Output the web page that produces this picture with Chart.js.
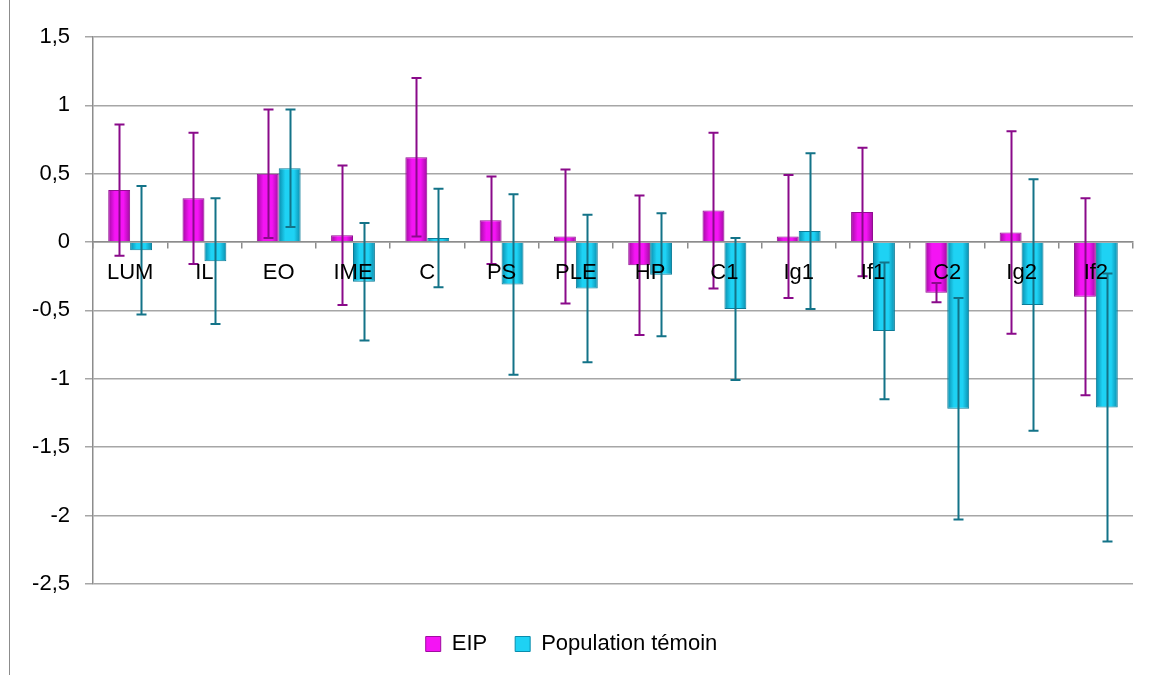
<!DOCTYPE html>
<html>
<head>
<meta charset="utf-8">
<script src="https://cdn.jsdelivr.net/npm/chart.js@4/dist/chart.umd.min.js"></script>
<style>
  body { margin: 0; background: #fff; }
  #wrap { position: relative; width: 1158px; height: 675px; }
  #frame { position: absolute; left: 9px; top: 0; width: 1px; height: 675px; background: #8c8c8c; }
</style>
</head>
<body>
<div id="wrap">
  <div id="frame"></div>
  <canvas id="chart" width="1158" height="675"></canvas>
</div>
<script>
const categories = ['LUM', 'IL', 'EO', 'IME', 'C', 'PS', 'PLE', 'HP', 'C1', 'Ig1', 'If1', 'C2', 'Ig2', 'If2'];
const eip = [0.38, 0.32, 0.50, 0.05, 0.62, 0.16, 0.04, -0.17, 0.23, 0.04, 0.22, -0.37, 0.07, -0.40];
const eipErr = [0.48, 0.48, 0.47, 0.51, 0.58, 0.32, 0.49, 0.51, 0.57, 0.45, 0.47, 0.07, 0.74, 0.72];
const pop = [-0.06, -0.14, 0.54, -0.29, 0.03, -0.31, -0.34, -0.24, -0.49, 0.08, -0.65, -1.22, -0.46, -1.21];
const popErr = [0.47, 0.46, 0.43, 0.43, 0.36, 0.66, 0.54, 0.45, 0.52, 0.57, 0.50, 0.81, 0.92, 0.98];

const errors = [eipErr, popErr];
const errColors = ['#8a0a8a', '#137388'];
const catPct = 0.59;

// [edge, middle] colours per series
const shades = [['#a00ca0', '#f414f4'], ['#0a8cac', '#1ed2f4']];

// horizontal shading inside each bar, positioned from the x scale
function barFill(ctx) {
  const di = ctx.datasetIndex;
  const xs = ctx.chart.scales && ctx.chart.scales.x;
  if (ctx.type !== 'data' || !xs) return shades[di][1];
  const c = xs.getPixelForValue(ctx.dataIndex);
  const w = xs.width / categories.length * catPct / 2;
  if (!isFinite(c) || !isFinite(w) || w <= 0) return shades[di][1];
  const x0 = di === 0 ? c - w : c;
  const g = ctx.chart.ctx.createLinearGradient(x0, 0, x0 + w, 0);
  g.addColorStop(0, shades[di][0]);
  g.addColorStop(0.3, shades[di][1]);
  g.addColorStop(0.7, shades[di][1]);
  g.addColorStop(1, shades[di][0]);
  return g;
}

// error bars drawn from the y scale
const errorBars = {
  id: 'errorBars',
  afterDatasetsDraw(chart) {
    const ctx = chart.ctx;
    const y = chart.scales.y;
    chart.data.datasets.forEach((ds, di) => {
      const meta = chart.getDatasetMeta(di);
      ctx.save();
      ctx.strokeStyle = errColors[di];
      ctx.lineWidth = 2;
      meta.data.forEach((bar, i) => {
        const v = ds.data[i];
        const e = errors[di][i];
        const top = y.getPixelForValue(v + e);
        const bot = y.getPixelForValue(v - e);
        const x = Math.round(bar.x) + 0.5;
        ctx.beginPath();
        ctx.moveTo(x, top);
        ctx.lineTo(x, bot);
        ctx.moveTo(x - 5, top);
        ctx.lineTo(x + 5, top);
        ctx.moveTo(x - 5, bot);
        ctx.lineTo(x + 5, bot);
        ctx.stroke();
      });
      ctx.restore();
    });
  }
};

const font = { family: "'Liberation Sans', Arial, sans-serif", size: 22 };

const chart = new Chart(document.querySelector('#chart'), {
  type: 'bar',
  data: {
    labels: categories,
    datasets: [{
      label: 'EIP',
      data: eip,
      backgroundColor: barFill,
      borderColor: '#930d93',
      borderWidth: 1,
      categoryPercentage: catPct,
      barPercentage: 1.0
    }, {
      label: 'Population témoin',
      data: pop,
      backgroundColor: barFill,
      borderColor: '#0b7c98',
      borderWidth: 1,
      categoryPercentage: catPct,
      barPercentage: 1.0
    }]
  },
  options: {
    responsive: false,
    animation: false,
    layout: { padding: { left: 10, top: 37, right: 25, bottom: 10 } },
    plugins: {
      tooltip: { enabled: false },
      legend: {
        position: 'bottom',
        title: { display: true, text: ' ', font: { size: 1 }, padding: { top: 0, bottom: 20 } },
        labels: {
          font: font,
          color: '#000',
          boxWidth: 15,
          boxHeight: 15,
          padding: 28,
          generateLabels(c) {
            const items = Chart.defaults.plugins.legend.labels.generateLabels(c);
            items.forEach((it, i) => {
              it.fillStyle = shades[i][1];
              it.strokeStyle = shades[i][0];
              it.lineWidth = 1;
            });
            return items;
          }
        }
      }
    },
    scales: {
      x: {
        position: { y: 0 },
        grid: {
          offset: true,
          drawOnChartArea: false,
          tickLength: 6,
          color: '#8c8c8c',
          lineWidth: 1.5
        },
        border: { color: '#8c8c8c', width: 1.5 },
        ticks: { z: 1, font: font, color: '#000', padding: 12, maxRotation: 0, autoSkip: false }
      },
      y: {
        min: -2.5,
        max: 1.5,
        afterFit(scale) { scale.width = 83; },
        grid: { color: '#a6a6a6', lineWidth: 1.5, tickLength: 8 },
        border: { color: '#8c8c8c', width: 1.5 },
        ticks: {
          stepSize: 0.5,
          font: font,
          color: '#000',
          padding: 15,
          callback: v => String(v).replace('.', ',')
        }
      }
    }
  },
  plugins: [errorBars]
});
chart.update();
</script>
</body>
</html>
